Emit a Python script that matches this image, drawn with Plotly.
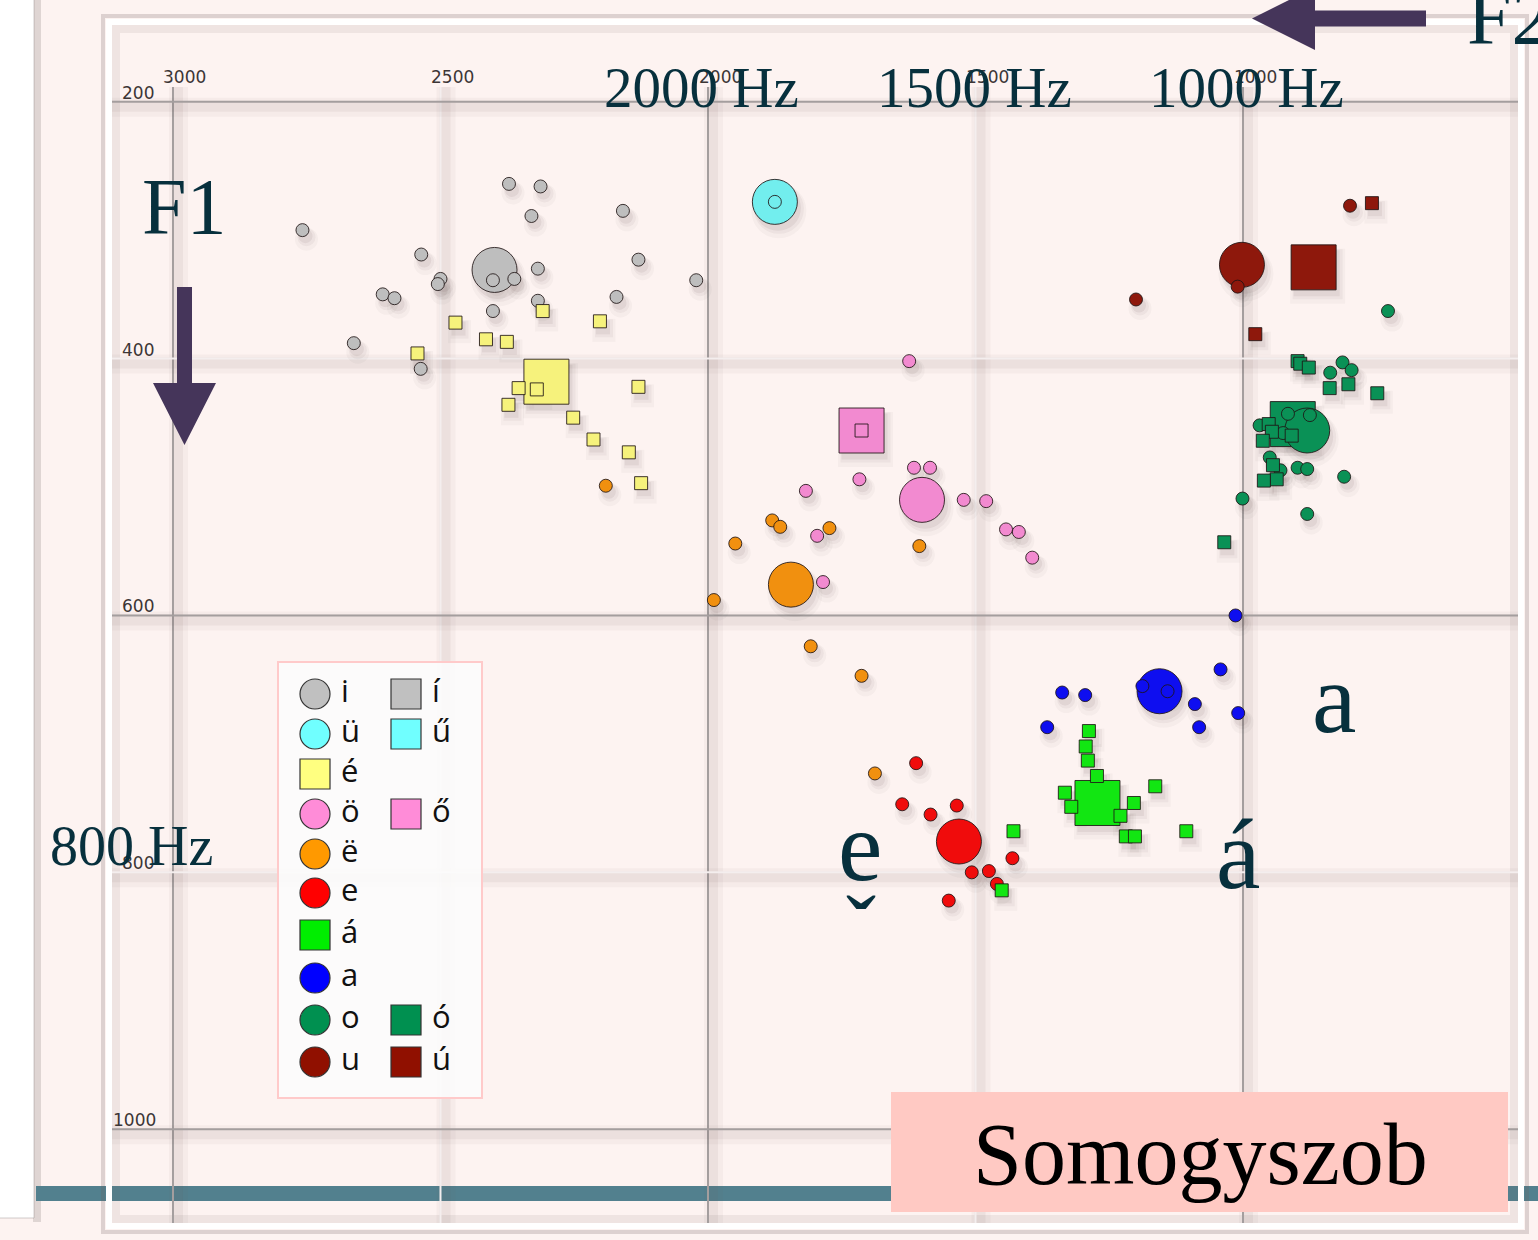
import plotly.graph_objects as go

# ---------------- data: (F2 Hz, F1 Hz) ----------------
I_F2 = [2758, 2372, 2313, 2330, 2159, 2536, 2500, 2505, 2608, 2586, 2402, 2362, 2318, 2130, 2022, 2171, 2318, 2402, 2662, 2537]
I_F1 = [300, 264, 266, 289, 285, 319, 338, 342, 350, 353, 339, 338, 330, 323, 339, 352, 355, 363, 388, 408]
I_MEAN = [2399, 331]

UE_F2 = [1875]
UE_F1 = [278]
UE_MEAN = [1875, 278]

EE_F2 = [2472, 2415, 2376, 2309, 2202, 2543, 2354, 2320, 2373, 2130, 2252, 2214, 2148, 2125]
EE_F1 = [372, 385, 387, 363, 371, 396, 423, 424, 436, 422, 446, 463, 473, 497]
EE_MEAN = [2302, 418]

OE_F2 = [1624, 1615, 1585, 1717, 1817, 1522, 1480, 1443, 1419, 1394, 1796, 1785]
OE_F1 = [402, 485, 485, 494, 503, 510, 511, 533, 535, 555, 538, 574]
OE_MEAN = [1600, 510]

OEL_F2 = [1713]
OEL_F1 = [456]
OEL_MEAN = [1713, 456]

ED_F2 = [2191, 1880, 1865, 1773, 1949, 1605, 1989, 1808, 1713, 1688]
ED_F1 = [499, 526, 531, 532, 544, 546, 588, 624, 647, 723]
ED_MEAN = [1845, 576]

E_F2 = [1611, 1637, 1584, 1535, 1431, 1507, 1475, 1460, 1550]
E_F1 = [715, 747, 755, 748, 789, 800, 799, 809, 822]
E_MEAN = [1531, 776]

AA_F2 = [1288, 1294, 1290, 1273, 1333, 1321, 1164, 1204, 1229, 1219, 1202, 1106, 1429, 1451]
AA_F1 = [690, 702, 713, 725, 738, 749, 733, 746, 756, 772, 772, 768, 768, 814]
AA_MEAN = [1272, 746]

A_F2 = [1014, 1042, 1338, 1295, 1188, 1141, 1090, 1009, 1082, 1366]
A_F1 = [600, 642, 660, 662, 655, 659, 669, 676, 687, 687]
A_MEAN = [1156, 659]

O_F2 = [729, 814, 837, 797, 916, 875, 969, 925, 950, 930, 898, 880, 811, 1001, 880]
O_F1 = [363, 403, 411, 409, 443, 444, 452, 458, 477, 487, 485, 486, 492, 509, 521]
O_MEAN = [880, 456]

OL_F2 = [898, 893, 877, 838, 803, 749, 952, 946, 963, 909, 944, 937, 961, 1035]
OL_F1 = [402, 404, 407, 423, 420, 427, 451, 457, 464, 460, 483, 494, 495, 543]
OL_MEAN = [907, 451]

U_F2 = [800, 1200, 1010]
U_F1 = [281, 354, 344]
U_MEAN = [1002, 327]

UL_F2 = [759, 977]
UL_F1 = [279, 381]
UL_MEAN = [868, 329]

F2_TICKS = [3000, 2500, 2000, 1500, 1000]
F1_TICKS = [200, 400, 600, 800, 1000]
F2_BIG_LABELS = ["2000 Hz", "1500 Hz", "1000 Hz"]
F2_BIG_VALUES = [2000, 1500, 1000]

LEG1_LABELS = ['i', 'ü', 'é', 'ö', 'ë', 'e', 'á', 'a', 'o', 'u']
LEG1_SYMBOLS = ['circle', 'circle', 'square', 'circle', 'circle', 'circle', 'square', 'circle', 'circle', 'circle']
LEG1_COLORS = ['#c0c0c0', '#70ffff', '#ffff80', '#ff8cd8', '#ff9900', '#ff0000', '#00ee00', '#0000ff', '#009050', '#901000']
LEG2_LABELS = ['í', 'ű', None, 'ő', None, None, None, None, 'ó', 'ú']
LEG2_COLORS = ['#c0c0c0', '#70ffff', None, '#ff8cd8', None, None, None, None, '#009050', '#901000']

# ---------------- geometry ----------------
W, H = 1538, 1240
X0PX, X1PX, Y0PX, Y1PX = 112, 1518, 25, 1223
X_RANGE = [3114, 486]
Y_RANGE = [1073, 140.3]
HZX = (X_RANGE[0] - X_RANGE[1]) / (X1PX - X0PX)
HZY = (Y_RANGE[0] - Y_RANGE[1]) / (Y1PX - Y0PX)


def fx(p):
    return p / W


def fy(p):
    return 1 - p / H


SMALL, BIG = 13, 45
LINE = dict(color='rgba(30,20,20,0.85)', width=1)

fig = go.Figure()

# groups: (F2 list, F1 list, mean, symbol, color)
GROUPS = [
    (I_F2, I_F1, I_MEAN, 'circle', '#bebebe'),
    (UE_F2, UE_F1, UE_MEAN, 'circle', '#72eeee'),
    (EE_F2, EE_F1, EE_MEAN, 'square', '#f6f27c'),
    (OE_F2, OE_F1, OE_MEAN, 'circle', '#f28ad0'),
    (OEL_F2, OEL_F1, OEL_MEAN, 'square', '#f28ad0'),
    (ED_F2, ED_F1, ED_MEAN, 'circle', '#f1900f'),
    (E_F2, E_F1, E_MEAN, 'circle', '#f00c0c'),
    (AA_F2, AA_F1, AA_MEAN, 'square', '#12e612'),
    (A_F2, A_F1, A_MEAN, 'circle', '#0e0ef0'),
    (OL_F2, OL_F1, OL_MEAN, 'square', '#0a9156'),
    (O_F2, O_F1, O_MEAN, 'circle', '#0a9156'),
    (UL_F2, UL_F1, UL_MEAN, 'square', '#8e180c'),
    (U_F2, U_F1, U_MEAN, 'circle', '#8e180c'),
]

# soft drop shadows
for sym in ['circle', 'square']:
    xs, ys, ss = [], [], []
    for f2, f1, mean, s, c in GROUPS:
        if s != sym:
            continue
        xs += [mean[0]] + list(f2)
        ys += [mean[1]] + list(f1)
        ss += [BIG] + [SMALL] * len(f2)
    for extra, alpha, dxp, dyp in [(10, 0.05, 4, 9), (5, 0.07, 4, 7), (1, 0.10, 3, 6)]:
        fig.add_trace(go.Scatter(
            x=[v - dxp * HZX for v in xs], y=[v + dyp * HZY for v in ys], mode='markers',
            marker=dict(symbol=sym, size=[s + extra for s in ss], color=f'rgba(70,45,45,{alpha})', line=dict(width=0)),
            hoverinfo='skip', showlegend=False))

# means: squares first, then circles
for sym in ['square', 'circle']:
    for f2, f1, mean, s, c in GROUPS:
        if s != sym:
            continue
        fig.add_trace(go.Scatter(x=[mean[0]], y=[mean[1]], mode='markers',
                                 marker=dict(symbol=s, size=BIG, color=c, line=LINE),
                                 hoverinfo='skip', showlegend=False))
# tokens: circles then squares
for sym in ['circle', 'square']:
    for f2, f1, mean, s, c in GROUPS:
        if s != sym:
            continue
        fig.add_trace(go.Scatter(x=f2, y=f1, mode='markers',
                                 marker=dict(symbol=s, size=SMALL, color=c, line=LINE),
                                 hoverinfo='skip', showlegend=False))

# ---------------- custom legend (pixel overlay subplot) ----------------
LEG_ROW_Y = [694, 734, 774, 814, 854, 893, 935, 978, 1020, 1062]
LEG_C1X, LEG_C2X = 315, 406
LEG_TXT_DX = 26
LEGFONT = dict(family='Open Sans', size=31, color='#111111')
idx2 = [k for k, l in enumerate(LEG2_LABELS) if l]
fig.add_trace(go.Scatter(
    x=[LEG_C1X] * len(LEG1_LABELS), y=LEG_ROW_Y, mode='markers',
    marker=dict(symbol=LEG1_SYMBOLS, size=30, color=LEG1_COLORS, line=dict(color='#333333', width=1.2)),
    xaxis='x2', yaxis='y2', hoverinfo='skip', showlegend=False, cliponaxis=False))
fig.add_trace(go.Scatter(
    x=[LEG_C2X] * len(idx2), y=[LEG_ROW_Y[k] for k in idx2], mode='markers',
    marker=dict(symbol='square', size=30, color=[LEG2_COLORS[k] for k in idx2], line=dict(color='#333333', width=1.2)),
    xaxis='x2', yaxis='y2', hoverinfo='skip', showlegend=False, cliponaxis=False))
fig.add_trace(go.Scatter(
    x=[LEG_C1X + LEG_TXT_DX] * len(LEG1_LABELS) + [LEG_C2X + LEG_TXT_DX] * len(idx2),
    y=LEG_ROW_Y + [LEG_ROW_Y[k] for k in idx2], mode='text',
    text=LEG1_LABELS + [LEG2_LABELS[k] for k in idx2], textposition='middle right', textfont=LEGFONT,
    xaxis='x2', yaxis='y2', hoverinfo='skip', showlegend=False, cliponaxis=False))

# ---------------- shapes ----------------
shapes = []
# left slide panel
shapes.append(dict(type='rect', xref='paper', yref='paper', x0=fx(33), x1=fx(41), y0=fy(-5), y1=fy(1222),
                   fillcolor='rgba(90,80,80,0.18)', line=dict(width=0), layer='below'))
shapes.append(dict(type='rect', xref='paper', yref='paper', x0=fx(-5), x1=fx(34), y0=fy(-5), y1=fy(1218),
                   fillcolor='#ffffff', line=dict(color='rgba(120,110,110,0.35)', width=1), layer='below'))
# teal bar
shapes.append(dict(type='rect', xref='paper', yref='paper', x0=fx(36), x1=fx(1540), y0=fy(1186), y1=fy(1201),
                   fillcolor='#52808e', line=dict(width=0), layer='below'))
# frame shadow, white frame, inner shadow
shapes.append(dict(type='rect', xref='paper', yref='paper', x0=fx(103), x1=fx(1527), y0=fy(16), y1=fy(1232),
                   fillcolor='rgba(0,0,0,0)', line=dict(color='rgba(110,90,90,0.22)', width=4), layer='below'))
shapes.append(dict(type='rect', xref='paper', yref='paper', x0=fx(109), x1=fx(1521), y0=fy(22), y1=fy(1226),
                   fillcolor='rgba(0,0,0,0)', line=dict(color='#ffffff', width=6), layer='below'))
shapes.append(dict(type='rect', xref='paper', yref='paper', x0=fx(116), x1=fx(1514), y0=fy(29), y1=fy(1219),
                   fillcolor='rgba(0,0,0,0)', line=dict(color='rgba(120,95,95,0.10)', width=8), layer='below'))

# grid lines (with soft shadows)
for k, t in enumerate(F2_TICKS):
    major = (k % 2 == 0)
    for a, b, al in [(-4, 15, 0.05), (-1, 10, 0.07)]:
        shapes.append(dict(type='rect', xref='x', yref='paper', x0=t - a * HZX, x1=t - b * HZX,
                           y0=fy(Y1PX), y1=fy(87), fillcolor=f'rgba(120,90,90,{al})', line=dict(width=0), layer='below'))
    shapes.append(dict(type='line', xref='x', yref='paper', x0=t, x1=t, y0=fy(Y1PX), y1=fy(87),
                       line=dict(color='#a49e9e' if major else '#f4eeee', width=2), layer='below'))
for k, t in enumerate(F1_TICKS):
    major = (k % 2 == 0)
    for a, b, al in [(-4, 15, 0.05), (-1, 10, 0.07)]:
        shapes.append(dict(type='rect', xref='paper', yref='y', x0=fx(X0PX), x1=fx(X1PX),
                           y0=t + a * HZY, y1=t + b * HZY, fillcolor=f'rgba(120,90,90,{al})', line=dict(width=0), layer='below'))
    shapes.append(dict(type='line', xref='paper', yref='y', x0=fx(X0PX), x1=fx(X1PX), y0=t, y1=t,
                       line=dict(color='#a49e9e' if major else '#f4eeee', width=2), layer='below'))

# legend box and title box (pixel overlay subplot, above main data)
shapes.append(dict(type='rect', xref='x2', yref='y2', x0=278, x1=482, y0=662, y1=1098,
                   fillcolor='rgba(252,252,252,0.9)', line=dict(color='#ffcaca', width=2), layer='below'))
shapes.append(dict(type='rect', xref='x2', yref='y2', x0=891, x1=1508, y0=1092, y1=1212,
                   fillcolor='#ffc9c3', line=dict(width=0), layer='below'))


def path(pts):
    return 'M ' + ' L '.join(f'{fx(x):.5f},{fy(y):.5f}' for x, y in pts) + ' Z'


ARROW = '#45355a'
shapes.append(dict(type='path', xref='paper', yref='paper', layer='above', fillcolor=ARROW, line=dict(width=0),
                   path=path([(177, 287), (192, 287), (192, 383), (216, 383), (184.5, 445), (153, 383), (177, 383)])))
shapes.append(dict(type='path', xref='paper', yref='paper', layer='above', fillcolor=ARROW, line=dict(width=0),
                   path=path([(1426, 10.5), (1426, 26.5), (1315, 26.5), (1315, 50), (1252, 18.5), (1315, -13), (1315, 10.5)])))

# ---------------- annotations ----------------
ann = []
TICKFONT = dict(family='DejaVu Sans', size=17, color='#3c3636')
for t in F2_TICKS:
    ann.append(dict(x=t, xref='x', y=fy(77), yref='paper', text=str(t), showarrow=False,
                    xanchor='center', yanchor='middle', xshift=12, font=TICKFONT))
for t in F1_TICKS:
    ann.append(dict(x=fx(138 if t < 1000 else 134), xref='paper', y=t, yref='y', text=str(t), showarrow=False,
                    xanchor='center', yanchor='middle', yshift=9, font=TICKFONT))

SERIF = 'Liberation Serif'
TEAL = '#07303d'
BIG_LABEL_SHIFT = [-7, -1.5, 3.5]
for lab, v, sh in zip(F2_BIG_LABELS, F2_BIG_VALUES, BIG_LABEL_SHIFT):
    ann.append(dict(x=v, xref='x', y=fy(88), yref='paper', text=lab, showarrow=False,
                    xanchor='center', yanchor='middle', xshift=sh, font=dict(family=SERIF, size=57, color=TEAL)))


def txt(x, y, s, size, color=TEAL, family=SERIF, xanchor='center'):
    ann.append(dict(x=fx(x), xref='paper', y=fy(y), yref='paper', text=s, showarrow=False,
                    xanchor=xanchor, yanchor='middle', font=dict(family=family, size=size, color=color)))


txt(184, 207, 'F1', 80)
txt(1465, 17, 'F2', 80, xanchor='left')
txt(131, 846, '800 Hz', 56)
txt(1334, 698, 'a', 100)
txt(1238, 854, 'á', 100)
txt(860, 846, 'e', 100)
txt(861, 928, 'ˇ', 90)
txt(1200, 1154, 'Somogyszob', 88, color='#000000')

fig.update_layout(
    width=W, height=H, margin=dict(l=0, r=0, t=0, b=0),
    paper_bgcolor='#fdf3f1', plot_bgcolor='rgba(0,0,0,0)',
    showlegend=False,
    xaxis=dict(domain=[fx(X0PX), fx(X1PX)], range=X_RANGE, visible=False, anchor='y', fixedrange=True),
    yaxis=dict(domain=[fy(Y1PX), fy(Y0PX)], range=Y_RANGE, visible=False, anchor='x', fixedrange=True),
    xaxis2=dict(domain=[0, 1], range=[0, W], visible=False, anchor='y2', fixedrange=True),
    yaxis2=dict(domain=[0, 1], range=[H, 0], visible=False, anchor='x2', fixedrange=True),
    shapes=shapes, annotations=ann,
)

fig.write_html('out.html', config={'displayModeBar': False},
               post_script="document.body.style.margin='0px';document.body.style.overflow='hidden';")
